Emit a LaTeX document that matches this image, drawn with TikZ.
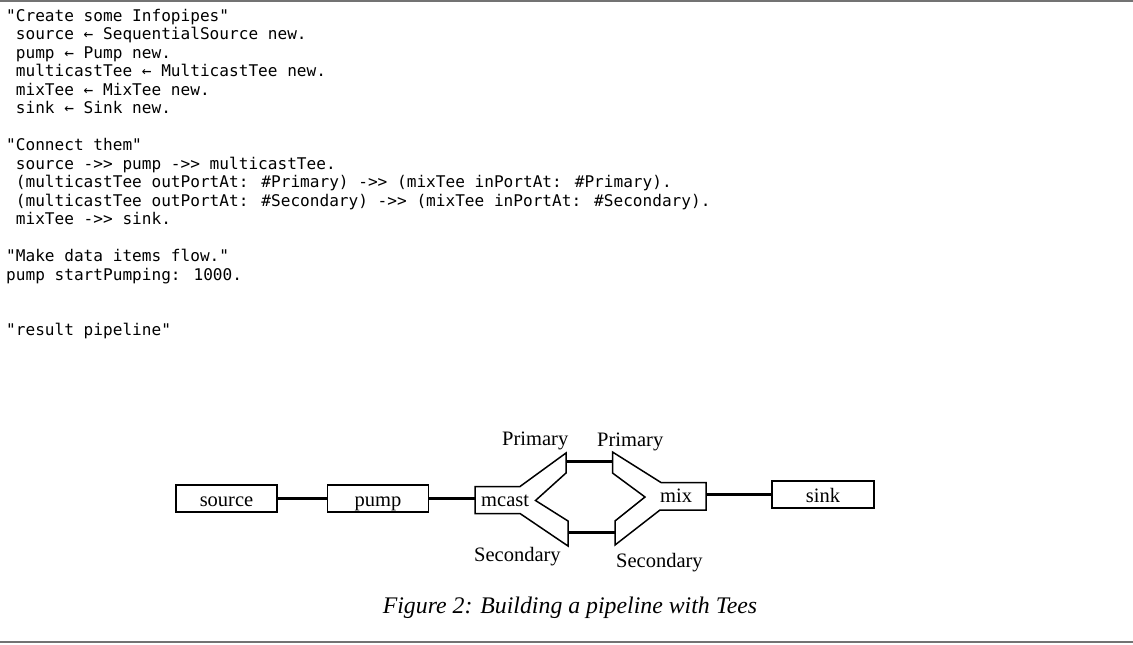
\documentclass[tikz,border=0pt]{standalone}
\usepackage{fontspec}
\setmainfont{Liberation Serif}
\newfontfamily\codefont{DejaVu Sans Mono}
\begin{document}
\begin{tikzpicture}[x=1pt,y=-1pt,
  code/.style={anchor=base west, inner sep=0pt, font=\codefont\fontsize{16.1}{18.5}\selectfont},
  lbl/.style={anchor=base west, inner sep=0pt, font=\fontsize{20.5}{24}\selectfont},
  box/.style={draw, line width=1.5pt, minimum width=101pt, minimum height=27pt, inner sep=0pt,
    text height=17pt, text depth=2pt, font=\fontsize{20.5}{24}\selectfont},
  pipe/.style={line width=3pt},
  tee/.style={draw, line width=1.5pt, line join=miter},
  rule/.style={draw=black!55, line width=2pt}
]
\useasboundingbox (0,0) rectangle (1133,645);
\fill[white] (0,0) rectangle (1133,645);
\draw[rule] (0,1) -- (1133,1);
\draw[rule] (0,642) -- (1133,642);

% code
\node[code] (c1) at (6,21) {"Create some Infopipes"};
\node[code] (c2) at (15.7,39.5) {source ← SequentialSource new.};
\node[code] (c3) at (15.7,58) {pump ← Pump new.};
\node[code] (c4) at (15.7,76.5) {multicastTee ← MulticastTee new.};
\node[code] (c5) at (15.7,95) {mixTee ← MixTee new.};
\node[code] (c6) at (15.7,113.5) {sink ← Sink new.};
\node[code] (c8) at (6,150.5) {"Connect them"};
\node[code] (c9) at (15.7,169) {source ->> pump ->> multicastTee.};
\node[code] (c10) at (15.7,187.5) {(multicastTee outPortAt: \#Primary) ->> (mixTee inPortAt: \#Primary).};
\node[code] (c11) at (15.7,206) {(multicastTee outPortAt: \#Secondary) ->> (mixTee inPortAt: \#Secondary).};
\node[code] (c12) at (15.7,224.5) {mixTee ->> sink.};
\node[code] (c14) at (6,261.5) {"Make data items flow."};
\node[code] (c15) at (6,280) {pump startPumping: 1000.};
\node[code] (c18) at (6,335.5) {"result pipeline"};

% boxes
\node[box] (source) at (226.5,498.5) {source};
\node[box] (pump) at (378,498.5) {pump};
\node[box, minimum width=102pt] (sink) at (823,494.5) {sink};

% tees
\draw[tee] (475,486.5) -- (520,486.5) -- (566,453) -- (566,473) -- (535.5,500.5)
  -- (568,521) -- (568,546) -- (520,513.5) -- (475,513.5) -- cycle;
\draw[tee] (612.5,452) -- (661,482.5) -- (706,482.5) -- (706,510) -- (660,510)
  -- (615,545) -- (615,521) -- (645,497) -- (612.5,473) -- cycle;
\node[lbl] (mcast) at (481,506) {mcast};
\node[lbl] (mix) at (660,502) {mix};

\coordinate (mcIn) at (475,498.5);
\coordinate (mcP) at (566,461);
\coordinate (mcS) at (568,532);
\coordinate (mxP) at (612.5,461);
\coordinate (mxS) at (615,532);
\coordinate (mxOut) at (706,494.5);

% connectors
\draw[pipe] (source.east) -- (pump.west);
\draw[pipe] (pump.east) -- (mcIn);
\draw[pipe] (mcP) -- (mxP);
\draw[pipe] (mcS) -- (mxS);
\draw[pipe] (mxOut) -- (sink.west);

% port labels
\node[lbl] (p1) at (502,445) {Primary};
\node[lbl] (p2) at (597,446) {Primary};
\node[lbl] (s1) at (474,561) {Secondary};
\node[lbl] (s2) at (616,567) {Secondary};

% caption
\node[anchor=base, inner sep=0pt, font=\itshape\fontsize{23.8}{28}\selectfont] (cap) at (570,613) {Figure 2: Building a pipeline with Tees};
\end{tikzpicture}
\end{document}
